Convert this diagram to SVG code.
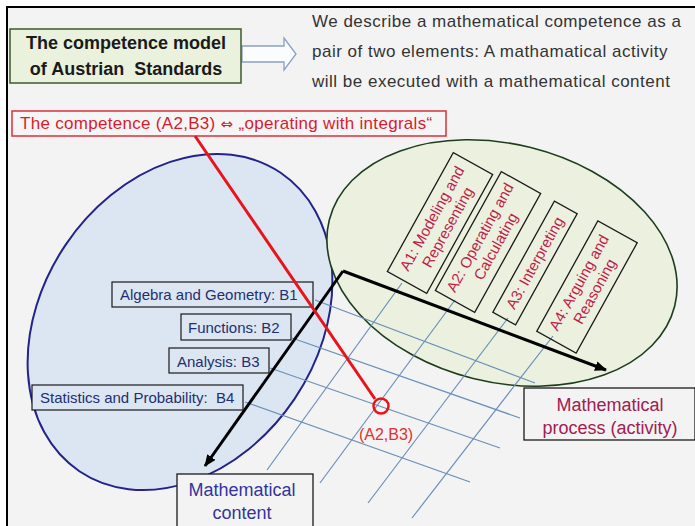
<svg xmlns="http://www.w3.org/2000/svg" width="695" height="526" viewBox="0 0 695 526">
<defs>
<style>
.sans{font-family:"Liberation Sans",Arial,sans-serif}
.pre{white-space:pre}
.bbox{fill:#dce6f2;stroke:#1a1a1a;stroke-width:1.2}
.btxt{font-family:"Liberation Sans",Arial,sans-serif;font-size:15px;fill:#1f2f6f}
.abox{fill:none;stroke:#1a1a1a;stroke-width:1.3}
.atxt{font-family:"Liberation Sans",Arial,sans-serif;font-size:15px;fill:#c0204a;text-anchor:middle}
.grid{stroke:#6a8fb8;stroke-width:1.2;fill:none}
.axis{stroke:#000;stroke-width:3;fill:none}
</style>
<marker id="ah" viewBox="0 0 12 10" refX="11" refY="5" markerWidth="12" markerHeight="10" markerUnits="userSpaceOnUse" orient="auto">
<path d="M0,0 L12,5 L0,10 z" fill="#000"/>
</marker>
</defs>
<rect x="0" y="0" width="695" height="526" fill="#ffffff"/>
<rect x="7" y="7" width="690" height="525" fill="#f3f3f3" stroke="#000" stroke-width="2"/>

<g id="content-ellipse">
<ellipse cx="180" cy="322" rx="180" ry="138" transform="rotate(-56 180 322)" fill="#dce6f2" stroke="#23238a" stroke-width="2"/>
</g>
<g id="process-ellipse">
<ellipse cx="502" cy="263" rx="178" ry="119" transform="rotate(14 502 263)" fill="#ebf1de" stroke="#1e3d1e" stroke-width="1.6"/>
</g>

<g id="connectors">
<g id="grid">
<line class="grid" x1="315" y1="300" x2="535" y2="383"/>
<line class="grid" x1="292" y1="338" x2="520" y2="418"/>
<line class="grid" x1="270" y1="368" x2="500" y2="448"/>
<line class="grid" x1="245" y1="402" x2="470" y2="482"/>
<line class="grid" x1="402" y1="283" x2="267" y2="470"/>
<line class="grid" x1="455" y1="300" x2="320" y2="483"/>
<line class="grid" x1="508" y1="318" x2="368" y2="503"/>
<line class="grid" x1="553" y1="336" x2="412" y2="518"/>
</g>
<polyline class="axis" points="343,271 606,370" marker-end="url(#ah)"/>
<line class="axis" x1="343" y1="271" x2="205" y2="466" marker-end="url(#ah)"/>
<path d="M242,46 L284,46 L284,38 L296,54 L284,70 L284,62 L242,62 Z" fill="#fbfcfe" stroke="#8aa0c0" stroke-width="1.3"/>
</g>

<g id="title">
<rect x="10" y="29" width="231" height="54" fill="#eaf1dd" stroke="#3c5a2c" stroke-width="1.5"/>
<text class="sans" x="126" y="49" font-size="18" font-weight="bold" fill="#1a1a1a" text-anchor="middle">The competence model</text>
<text class="sans pre" x="126" y="75" font-size="18" font-weight="bold" fill="#1a1a1a" text-anchor="middle">of Austrian  Standards</text>
</g>

<g id="description" class="sans" font-size="17" fill="#333" letter-spacing="0.5">
<text x="312" y="27">We describe a mathematical competence as a</text>
<text x="312" y="57">pair of two elements: A mathamatical activity</text>
<text x="312" y="87">will be executed with a mathematical content</text>
</g>

<g id="b1"><rect class="bbox" x="112" y="282" width="201" height="25"/><text class="btxt" x="120" y="300">Algebra and Geometry: B1</text></g>
<g id="b2"><rect class="bbox" x="181" y="314" width="110" height="26"/><text class="btxt" x="188" y="333">Functions: B2</text></g>
<g id="b3"><rect class="bbox" x="169" y="348" width="100" height="25"/><text class="btxt" x="177" y="367">Analysis: B3</text></g>
<g id="b4"><rect class="bbox" x="32" y="385" width="211" height="25"/><text class="btxt pre" x="40" y="403">Statistics and Probability:  B4</text></g>

<g id="a1" transform="translate(440,223) rotate(-61)">
<rect class="abox" x="-68" y="-22.5" width="136" height="45"/>
<text class="atxt" y="-4">A1: Modeling and</text>
<text class="atxt" y="14">Representing</text>
</g>
<g id="a2" transform="translate(488,242) rotate(-61)">
<rect class="abox" x="-68" y="-22.5" width="136" height="45"/>
<text class="atxt" y="-4">A2: Operating and</text>
<text class="atxt" y="14">Calculating</text>
</g>
<g id="a3" transform="translate(535,263) rotate(-61)">
<rect class="abox" x="-63.5" y="-13" width="127" height="26"/>
<text class="atxt" y="5">A3: Interpreting</text>
</g>
<g id="a4" transform="translate(587,287) rotate(-61)">
<rect class="abox" x="-63" y="-22.5" width="126" height="45"/>
<text class="atxt" y="-4">A4: Arguing and</text>
<text class="atxt" y="14">Reasoning</text>
</g>

<g id="competence-label">
<rect x="12" y="111" width="434" height="25" fill="#f5f5f5" stroke="#d9303a" stroke-width="1.5"/>
<text class="sans" x="20" y="129" font-size="17" fill="#d81c2c" letter-spacing="0.3">The competence (A2,B3) <tspan font-family="'DejaVu Sans',sans-serif" font-size="15">⇔</tspan> „operating with integrals“</text>
</g>
<g id="pointer">
<line x1="195" y1="136" x2="375" y2="399" stroke="#e8141c" stroke-width="3"/>
<circle cx="381" cy="406" r="7.5" fill="none" stroke="#e8141c" stroke-width="2.5"/>
<text class="sans" x="386" y="440" font-size="16" fill="#e03030" text-anchor="middle">(A2,B3)</text>
</g>

<g id="process-label">
<rect x="524" y="388" width="171" height="52" fill="#f3f3f3" stroke="#1a1a1a" stroke-width="1.3"/>
<text class="sans" x="610" y="411" font-size="18" fill="#a02050" text-anchor="middle">Mathematical</text>
<text class="sans" x="610" y="434" font-size="18" fill="#a02050" text-anchor="middle">process (activity)</text>
</g>
<g id="content-label">
<rect x="177" y="474" width="136" height="60" fill="#f3f3f3" stroke="#1a1a1a" stroke-width="1.3"/>
<text class="sans" x="242" y="496" font-size="18" fill="#3333a0" text-anchor="middle">Mathematical</text>
<text class="sans" x="242" y="519" font-size="18" fill="#3333a0" text-anchor="middle">content</text>
</g>
</svg>
